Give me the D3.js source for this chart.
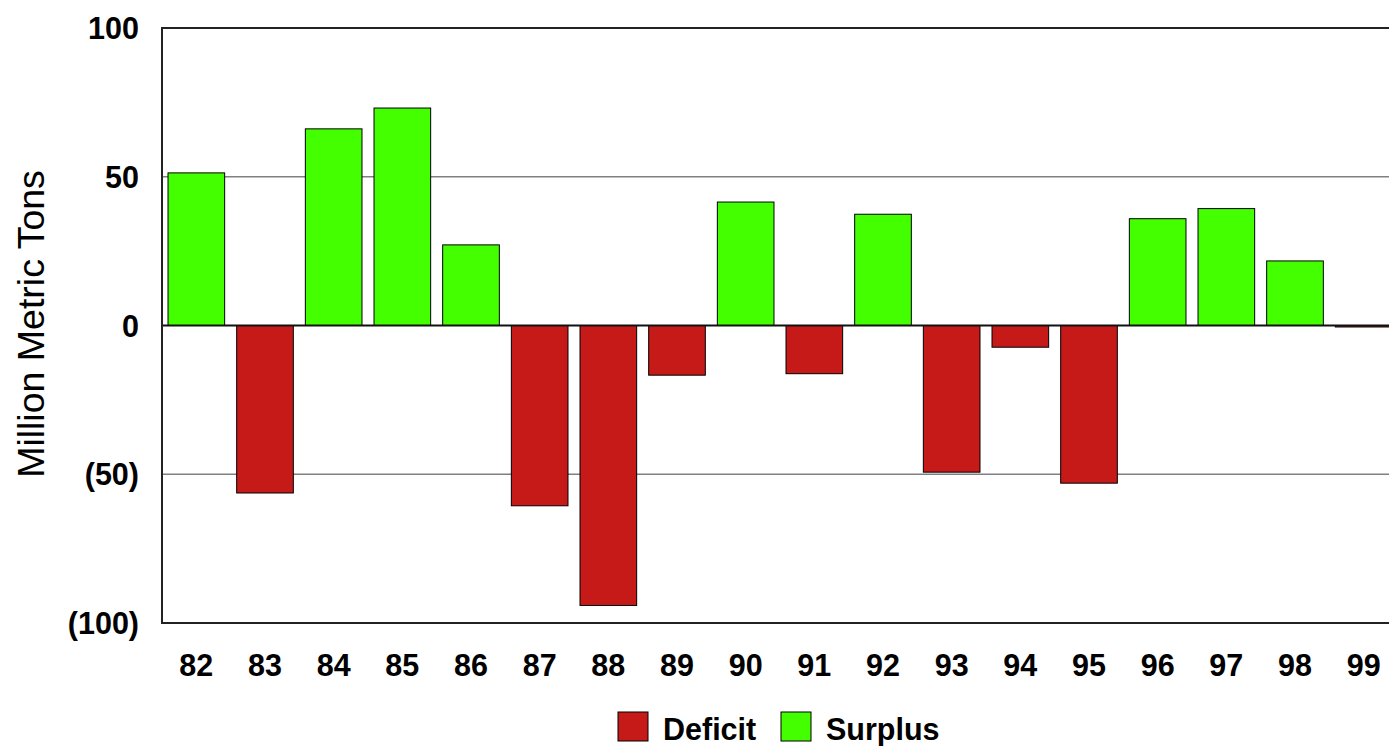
<!DOCTYPE html>
<html>
<head>
<meta charset="utf-8">
<script src="https://cdn.jsdelivr.net/npm/d3@7/dist/d3.min.js"></script>
<style>
  html, body { margin: 0; padding: 0; background: #fff; }
  svg { display: block; }
  text { font-family: "Liberation Sans", Arial, sans-serif; }
</style>
</head>
<body>
<svg id="chart" width="1389" height="746"></svg>
<script>
const years = ["82","83","84","85","86","87","88","89","90","91","92","93","94","95","96","97","98","99"];
const values = [51.3, -56.3, 66.1, 73.1, 27.1, -60.6, -94.1, -16.7, 41.5, -16.2, 37.4, -49.3, -7.3, -53.0, 35.9, 39.3, 21.7, -0.5];
const yTicks = [-100, -50, 0, 50, 100];
const legendItems = ["Deficit", "Surplus"];
const colors = { Deficit: "#C61A19", Surplus: "#44FF00" };

(function () {
const svg = d3.select("#chart");
const pLeft = 162, pTop = 28, pBottom = 623, pRight = 1398;
const fs = 30.5;

const x = d3.scaleBand().domain(years).range([pLeft, pRight]).paddingInner(0.175).paddingOuter(0.0875);
const y = d3.scaleLinear().domain([-100, 100]).range([pBottom, pTop]);

// grid lines
svg.append("g").selectAll("line").data(yTicks.filter(t => t !== 0 && Math.abs(t) !== 100))
  .join("line")
  .attr("x1", pLeft).attr("x2", pRight)
  .attr("y1", d => y(d)).attr("y2", d => y(d))
  .attr("stroke", "#808080").attr("stroke-width", 1.5);

// bars
svg.append("g").selectAll("rect").data(values.map((v, i) => ({ year: years[i], v })))
  .join("rect")
  .attr("x", d => x(d.year))
  .attr("width", x.bandwidth())
  .attr("y", d => y(Math.max(0, d.v)))
  .attr("height", d => Math.abs(y(d.v) - y(0)))
  .attr("fill", d => d.v >= 0 ? colors.Surplus : colors.Deficit)
  .attr("stroke", "#000").attr("stroke-width", 1);

// zero line
svg.append("line")
  .attr("x1", pLeft).attr("x2", pRight)
  .attr("y1", y(0)).attr("y2", y(0))
  .attr("stroke", "#111").attr("stroke-width", 2);

// frame (top, left, bottom)
svg.append("path")
  .attr("d", `M${pRight},${pTop}H${pLeft}V${pBottom}H${pRight}`)
  .attr("fill", "none").attr("stroke", "#222").attr("stroke-width", 2);

// y axis
const yAxis = svg.append("g").attr("transform", `translate(${pLeft},0)`)
  .call(d3.axisLeft(y).tickValues(yTicks).tickSize(0).tickPadding(23)
    .tickFormat(d => d < 0 ? `(${Math.abs(d)})` : `${d}`));
yAxis.select(".domain").remove();
yAxis.selectAll("text").attr("font-size", fs).attr("font-weight", "bold")
  .attr("fill", "#000").attr("font-family", "Liberation Sans, Arial, sans-serif").attr("dy", "0.35em");

// x axis
const xAxis = svg.append("g").attr("transform", `translate(0,${pBottom})`)
  .call(d3.axisBottom(x).tickSize(0).tickPadding(31));
xAxis.select(".domain").remove();
xAxis.selectAll("text").attr("font-size", fs).attr("font-weight", "bold")
  .attr("fill", "#000").attr("font-family", "Liberation Sans, Arial, sans-serif").attr("dy", "0.71em");

// y label
svg.append("text")
  .attr("transform", "translate(44,324) rotate(-90)")
  .attr("text-anchor", "middle")
  .attr("font-size", 37.5)
  .attr("fill", "#000")
  .text("Million Metric Tons");

// legend
const legendX = [618, 781];
const lg = svg.append("g");
legendItems.forEach((name, i) => {
  lg.append("rect").attr("x", legendX[i]).attr("y", 712).attr("width", 30).attr("height", 29)
    .attr("fill", colors[name]).attr("stroke", "#000").attr("stroke-width", 1);
  lg.append("text").attr("x", legendX[i] + 45).attr("y", 740)
    .attr("font-size", fs).attr("font-weight", "bold").attr("fill", "#000").text(name);
});
})();
</script>
</body>
</html>
